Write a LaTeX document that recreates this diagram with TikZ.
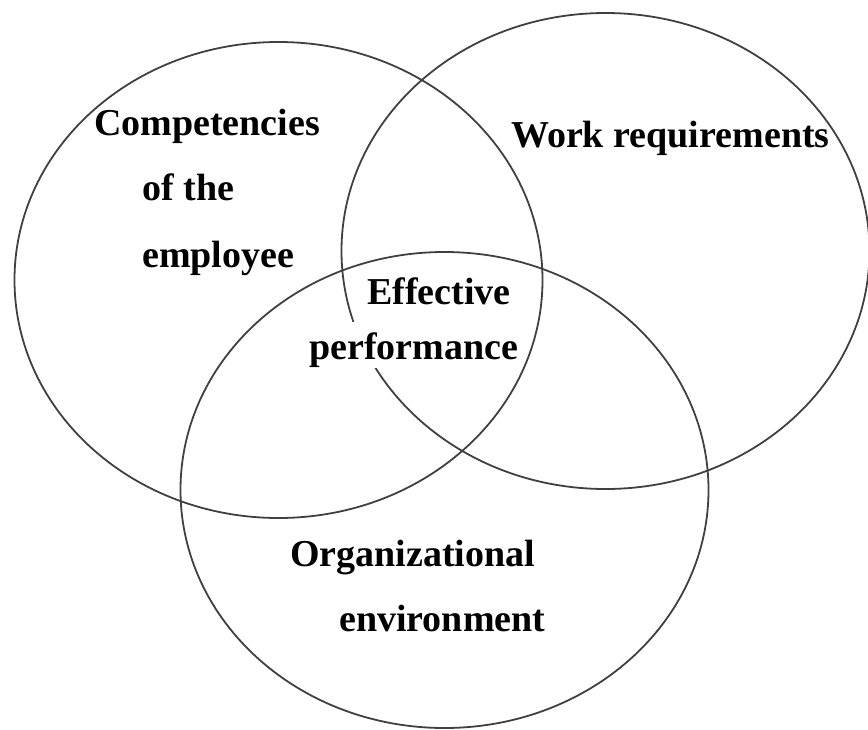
\documentclass[tikz,border=0pt]{standalone}
\usepackage{fontspec}
\setmainfont{Liberation Serif}
\usetikzlibrary{shapes.geometric}
\tikzset{
  venn/.style={ellipse, draw=black!75, line width=1.8pt, inner sep=0pt,
    minimum width=528pt, minimum height=476pt},
  lbl/.style={anchor=base west, inner sep=0pt, text=black,
    font=\fontsize{38}{46}\selectfont\bfseries},
  cover/.style={lbl, fill=white, inner xsep=3pt, inner ysep=0pt,
    text height=37pt, text depth=9pt}
}
\begin{document}
\begin{tikzpicture}[x=1pt, y=-1pt]
\useasboundingbox (0,0) rectangle (868,729);
% circles
\node[venn] (emp) at (278.5,280) {};
\node[venn] (work) at (605.5,251) {};
\node[venn] (org) at (444.5,490) {};
% labels
\node[lbl] (t1) at (94,135) {Competencies};
\node[lbl] (t2) at (142,200) {of the};
\node[lbl] (t3) at (142,267) {employee};
\node[lbl] (t4) at (511,147) {Work requirements};
\node[lbl] (t5) at (367,304) {Effective};
\node[cover] (t6) at (306,359) {performance};
\node[lbl] (t7) at (290,566) {Organizational};
\node[lbl] (t8) at (339,631) {environment};
\end{tikzpicture}
\end{document}
